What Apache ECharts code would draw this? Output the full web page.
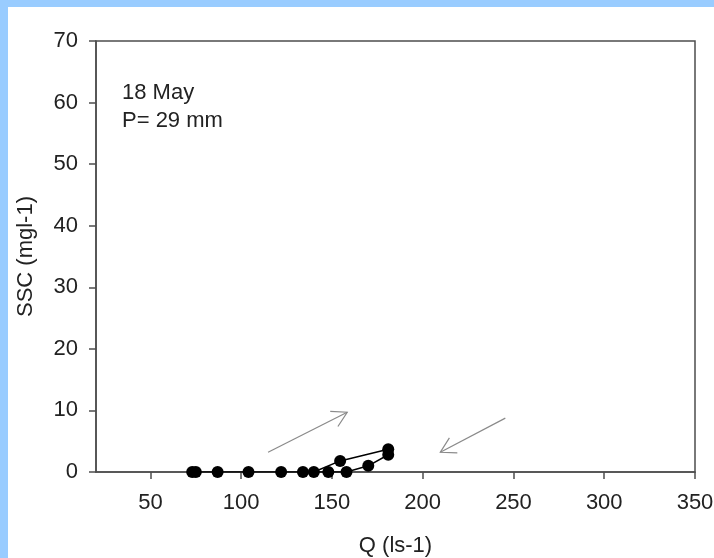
<!DOCTYPE html>
<html>
<head>
<meta charset="utf-8">
<script src="https://cdn.jsdelivr.net/npm/echarts@6/dist/echarts.min.js"></script>
<style>
html,body{margin:0;padding:0;background:#fff;}
#chart{width:714px;height:558px;}
</style>
</head>
<body>
<div id="chart"></div>
<script>
// Discharge Q (ls-1) and SSC (mgl-1), in event order (rising then falling limb)
const qValues   = [73, 87, 104, 122, 134, 140, 154.5, 181, 181, 170, 158, 148, 75];
const sscValues = [0,  0,  0,   0,   0,   0,   1.8,   3.7, 2.8, 1.0, 0,   0,   0];
// Tick labels
const xTicks = [50, 100, 150, 200, 250, 300, 350];
const yTicks = [0, 10, 20, 30, 40, 50, 60, 70];
// Hysteresis arrows: [x1, y1, x2, y2] in data units (tail -> head)
const arrowRising  = [114.8, 3.2, 158.4, 9.7];
const arrowFalling = [245.5, 8.75, 209.7, 3.2];
const annotationLines = ['18 May', 'P= 29 mm'];

const FONT = 'Liberation Sans, Arial, Helvetica, sans-serif';
const TEXT = '#222';
const AXIS = '#4d4d4d';

const chart = echarts.init(document.getElementById('chart'), null, {renderer: 'canvas'});

const points = qValues.map((q, i) => [q, sscValues[i]]);

function renderArrow(params, api) {
  const p1 = api.coord([api.value(0), api.value(1)]);
  const p2 = api.coord([api.value(2), api.value(3)]);
  const ang = Math.atan2(p1[1] - p2[1], p1[0] - p2[0]);
  const L = 17, spread = Math.PI / 6;
  const h1 = [p2[0] + L * Math.cos(ang + spread), p2[1] + L * Math.sin(ang + spread)];
  const h2 = [p2[0] + L * Math.cos(ang - spread), p2[1] + L * Math.sin(ang - spread)];
  const style = {stroke: '#8a8a8a', lineWidth: 1.2, fill: null};
  return {
    type: 'group',
    children: [
      {type: 'line', shape: {x1: p1[0], y1: p1[1], x2: p2[0], y2: p2[1]}, style: style},
      {type: 'polyline', shape: {points: [h1, p2, h2]}, style: style}
    ]
  };
}

const option = {
  animation: false,
  backgroundColor: '#fff',
  graphic: [
    {type: 'rect', shape: {x: 0, y: 0, width: 714, height: 7}, style: {fill: '#99ccff'}},
    {type: 'rect', shape: {x: 0, y: 0, width: 8, height: 558}, style: {fill: '#99ccff'}},
    {type: 'text', left: 122, top: 79,
      style: {text: annotationLines.join('\n'), font: '22px ' + FONT, fill: TEXT, lineHeight: 28}}
  ],
  grid: {left: 96, right: 19, top: 41, bottom: 86, show: true, outerBoundsMode: 'none', containLabel: false,
    borderColor: AXIS, borderWidth: 1.5, backgroundColor: 'transparent'},
  xAxis: {
    type: 'value', min: 20, max: 350,
    name: 'Q (ls-1)', nameLocation: 'middle', nameGap: 63,
    nameTextStyle: {fontFamily: FONT, fontSize: 22, color: TEXT},
    axisLine: {show: true, onZero: false, lineStyle: {color: AXIS, width: 1.5}},
    axisTick: {show: true, inside: false, length: 7, customValues: xTicks, lineStyle: {color: AXIS, width: 1.5}},
    axisLabel: {customValues: xTicks, margin: 20, fontFamily: FONT, fontSize: 22, color: TEXT},
    splitLine: {show: false}
  },
  yAxis: {
    type: 'value', min: 0, max: 70, interval: 10,
    name: 'SSC (mgl-1)', nameLocation: 'middle', nameGap: 59,
    nameTextStyle: {fontFamily: FONT, fontSize: 22, color: TEXT},
    axisLine: {show: true, onZero: false, lineStyle: {color: AXIS, width: 1.5}},
    axisTick: {show: true, inside: false, length: 7, customValues: yTicks, lineStyle: {color: AXIS, width: 1.5}},
    axisLabel: {customValues: yTicks, margin: 18, fontFamily: FONT, fontSize: 22, color: TEXT},
    splitLine: {show: false}
  },
  series: [
    {
      type: 'line', data: points, symbol: 'circle', symbolSize: 12,
      itemStyle: {color: '#000'}, lineStyle: {color: '#000', width: 1.5},
      z: 5, silent: true
    },
    {
      type: 'custom', renderItem: renderArrow,
      encode: {x: [0, 2], y: [1, 3]},
      data: [arrowRising, arrowFalling], z: 4, silent: true
    }
  ]
};
chart.setOption(option);
</script>
</body>
</html>
